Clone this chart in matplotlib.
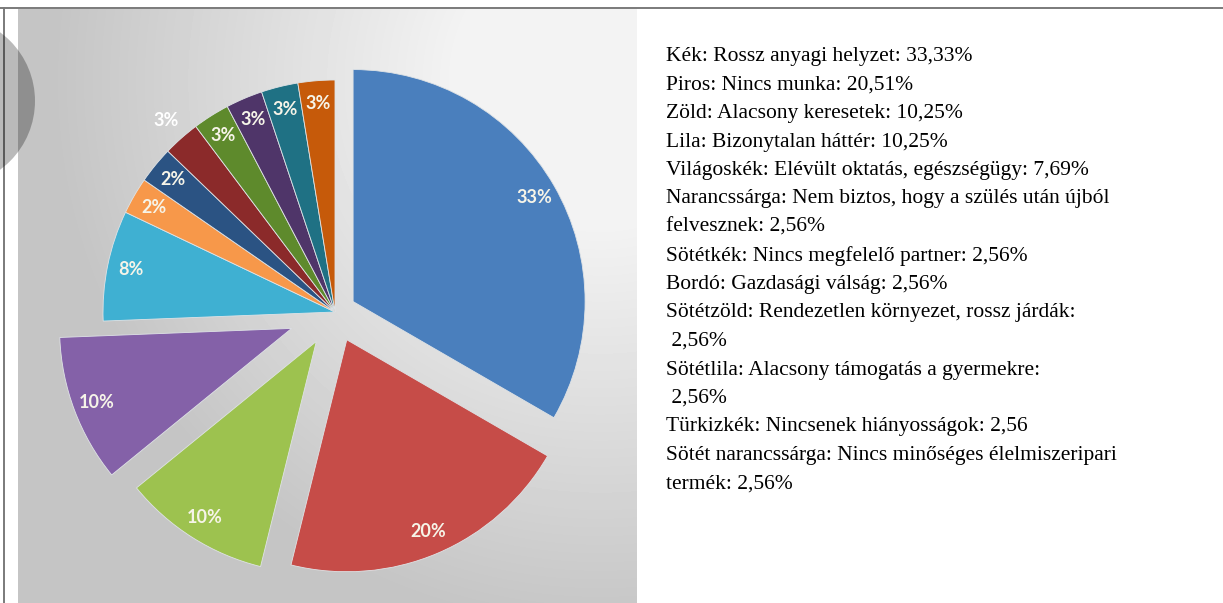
import numpy as np
import matplotlib
matplotlib.use('Agg')
import matplotlib.pyplot as plt
from matplotlib.patches import Circle

W, H = 1223, 603

# slice data (clockwise from 12 o'clock)
shares = [33.33, 20.51, 10.25, 10.25, 7.69, 2.56, 2.56, 2.56, 2.56, 2.56, 2.56, 2.56]
pct_labels = ['33%', '20%', '10%', '10%', '8%', '2%', '2%', '3%', '3%', '3%', '3%', '3%']
colors = ['#4a7fbd', '#c64c48', '#9dc24f', '#8461a8', '#3fb0d2', '#f7984a',
          '#2b5383', '#8b2a2a', '#5e8a2c', '#4f3569', '#1f7184', '#c65a0a']
explode_frac = [0.09, 0.13, 0.15, 0.2, 0, 0, 0, 0, 0, 0, 0, 0]

legend_lines = [
    "Kék: Rossz anyagi helyzet: 33,33%",
    "Piros: Nincs munka: 20,51%",
    "Zöld: Alacsony keresetek: 10,25%",
    "Lila: Bizonytalan háttér: 10,25%",
    "Világoskék: Elévült oktatás, egészségügy: 7,69%",
    "Narancssárga: Nem biztos, hogy a szülés után újból",
    "felvesznek: 2,56%",
    "Sötétkék: Nincs megfelelő partner: 2,56%",
    "Bordó: Gazdasági válság: 2,56%",
    "Sötétzöld: Rendezetlen környezet, rossz járdák:",
    " 2,56%",
    "Sötétlila: Alacsony támogatás a gyermekre:",
    " 2,56%",
    "Türkizkék: Nincsenek hiányosságok: 2,56",
    "Sötét narancssárga: Nincs minőséges élelmiszeripari",
    "termék: 2,56%",
]

fig = plt.figure(figsize=(W / 100, H / 100), dpi=100)
ax = fig.add_axes([0, 0, 1, 1])

# photo-like grey backdrop behind the pie
px0, px1, py_top = 18, 637, 9
yy, xx = np.mgrid[py_top:H, px0:px1]
dist = np.hypot(xx - 600, yy - 80)
shade = 0.95 - 0.18 * np.clip((dist - 150) / 400, 0, 1)
ax.imshow(shade, cmap='gray', vmin=0, vmax=1, extent=(px0, px1, 0, H - py_top),
          origin='upper', aspect='auto', zorder=0, interpolation='bilinear')

R = 232
center = (335, H - 312)
it = iter(pct_labels)
wedges, texts, autotexts = ax.pie(
    shares, explode=[e * R for e in explode_frac], colors=colors, startangle=90,
    counterclock=False, radius=R, center=center, autopct=lambda p: next(it),
    pctdistance=0.9, wedgeprops=dict(linewidth=0.6, edgecolor='#dfe3e6'),
    textprops=dict(color='#f6f4e8', fontsize=13, fontweight='bold', family='Lato'),
    frame=True)

# the bordeaux label sits outside its slice
lx, ly = autotexts[7].get_position()
autotexts[7].set_position((center[0] + (lx - center[0]) * 1.1 / 0.9,
                           center[1] + (ly - center[1]) * 1.1 / 0.9))
autotexts[7].set_color('white')

# frame lines
ax.plot([0, W], [H - 7.5, H - 7.5], color='#7a7a7a', lw=1.4, zorder=5)
ax.plot([3.5, 3.5], [0, H - 7.5], color='#7a7a7a', lw=1.4, zorder=5)

# grey circle bleeding in from the left edge
ax.add_patch(Circle((-50, H - 101), 85, color='black', alpha=0.27, lw=0, zorder=6))

for i, line in enumerate(legend_lines):
    ax.text(666, H - 61 - i * 28.5, line, family='Liberation Serif', fontsize=15.5,
            color='black', ha='left', va='baseline')

ax.set_xlim(0, W)
ax.set_ylim(0, H)
ax.set_aspect('auto')
ax.axis('off')

fig.savefig('out.png', dpi=100)
